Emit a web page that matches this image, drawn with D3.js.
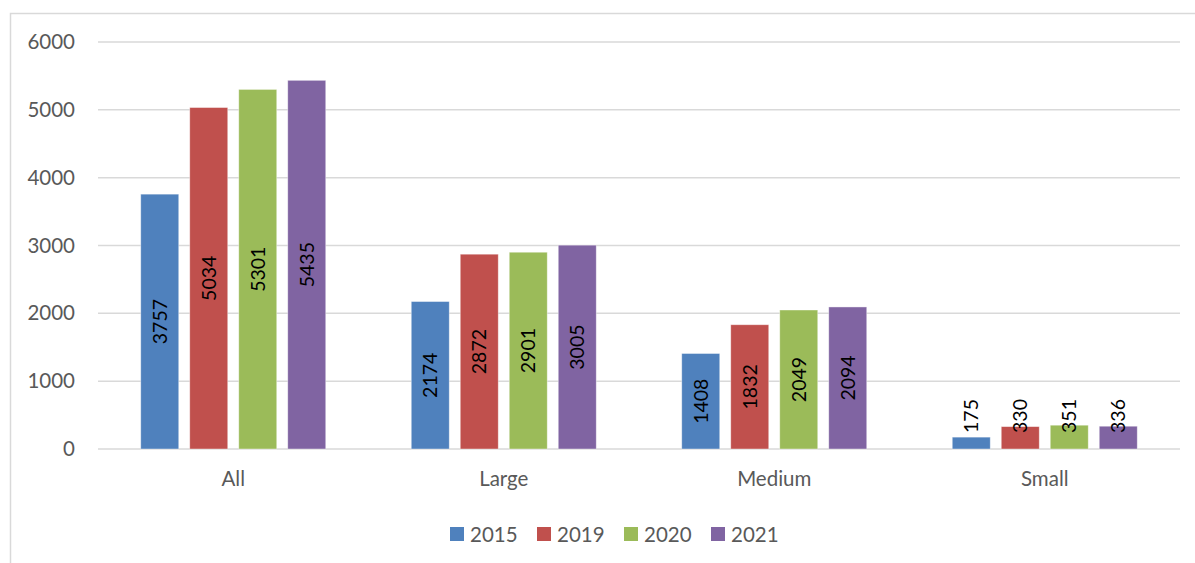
<!DOCTYPE html>
<html>
<head>
<meta charset="utf-8">
<script src="https://cdn.jsdelivr.net/npm/d3@7"></script>
<style>
  html, body { margin: 0; padding: 0; background: #fff; }
  svg { display: block; font-family: Lato, "Open Sans", "Liberation Sans", sans-serif; }
</style>
</head>
<body>
<svg id="chart" width="1195" height="563"></svg>
<script>
// Categories and series
const categories = ["All", "Large", "Medium", "Small"];
const years = ["2015", "2019", "2020", "2021"];
const values2015 = [3757, 2174, 1408, 175];
const values2019 = [5034, 2872, 1832, 330];
const values2020 = [5301, 2901, 2049, 351];
const values2021 = [5435, 3005, 2094, 336];
const yTicks = [0, 1000, 2000, 3000, 4000, 5000, 6000];
const colors = ["#4f81bd", "#c0504d", "#9bbb59", "#8064a2"];

const seriesValues = [values2015, values2019, values2020, values2021];

const svg = d3.select("#chart");
const W = 1195, H = 563;

// Chart frame
svg.append("rect")
  .attr("x", 10.5).attr("y", 13.5)
  .attr("width", W + 10).attr("height", H + 10)
  .attr("fill", "none").attr("stroke", "#d9d9d9").attr("stroke-width", 1.5);

const plot = { left: 98, right: 1180, top: 42, bottom: 449 };

const x0 = d3.scaleBand().domain(categories).range([plot.left, plot.right]).paddingInner(0).paddingOuter(0);
const innerW = 4 * 38 + 3 * 11; // four bars with gaps
const x1 = d3.scaleBand().domain(years)
  .range([0, innerW]).paddingInner(11 / 49).paddingOuter(0);
const y = d3.scaleLinear().domain([0, 6000]).range([plot.bottom, plot.top]);

// Gridlines
svg.append("g").selectAll("line").data(yTicks).join("line")
  .attr("x1", plot.left).attr("x2", plot.right)
  .attr("y1", d => y(d)).attr("y2", d => y(d))
  .attr("stroke", "#d9d9d9").attr("stroke-width", 1.5);

// Y axis labels
const yAxis = d3.axisLeft(y).tickValues(yTicks).tickSize(0).tickPadding(0).tickFormat(d3.format("d"));
const yg = svg.append("g").attr("transform", `translate(${plot.left - 23},0)`).call(yAxis);
yg.select(".domain").remove();
yg.selectAll("text").attr("fill", "#595959").style("font-size", "20.5px")
  .style("font-family", "Lato, 'Open Sans', sans-serif");

// Category axis labels
const xAxis = d3.axisBottom(x0).tickSize(0).tickPadding(0);
const xg = svg.append("g").attr("transform", `translate(0,${plot.bottom + 22})`).call(xAxis);
xg.select(".domain").remove();
xg.selectAll("text").attr("fill", "#595959").style("font-size", "20.5px")
  .style("font-family", "Lato, 'Open Sans', sans-serif");

// Bars
const rows = categories.map((c, i) => ({
  cat: c,
  items: years.map((yr, j) => ({ year: yr, value: seriesValues[j][i], color: colors[j] }))
}));

const groups = svg.append("g").selectAll("g").data(rows).join("g")
  .attr("transform", d => `translate(${x0(d.cat) + (x0.bandwidth() - innerW) / 2},0)`);

groups.selectAll("rect").data(d => d.items).join("rect")
  .attr("x", d => x1(d.year))
  .attr("width", x1.bandwidth())
  .attr("y", d => y(d.value))
  .attr("height", d => y(0) - y(d.value))
  .attr("fill", d => d.color)
  .attr("stroke", "#ffffff").attr("stroke-opacity", 0.5).attr("stroke-width", 0.8);

// Value labels, rotated, centred in the bar but kept clear of the baseline
groups.selectAll("text.val").data(d => d.items).join("text")
  .attr("class", "val")
  .attr("transform", d => {
    const cx = x1(d.year) + x1.bandwidth() / 2;
    const cy = Math.min((y(d.value) + y(0)) / 2, y(0) - 33);
    return `translate(${cx + 7},${cy}) rotate(-90)`;
  })
  .attr("text-anchor", "middle")
  .attr("fill", "#000")
  .style("font-size", "19.5px")
  .text(d => d.value);

// Legend
const legend = svg.append("g").attr("transform", "translate(450,527)");
const li = legend.selectAll("g").data(years).join("g")
  .attr("transform", (d, i) => `translate(${i * 87},0)`);
li.append("rect").attr("width", 14).attr("height", 14).attr("fill", (d, i) => colors[i]);
li.append("text").attr("x", 20).attr("y", 15)
  .attr("fill", "#595959").style("font-size", "20.5px").text(d => d);
</script>
</body>
</html>
